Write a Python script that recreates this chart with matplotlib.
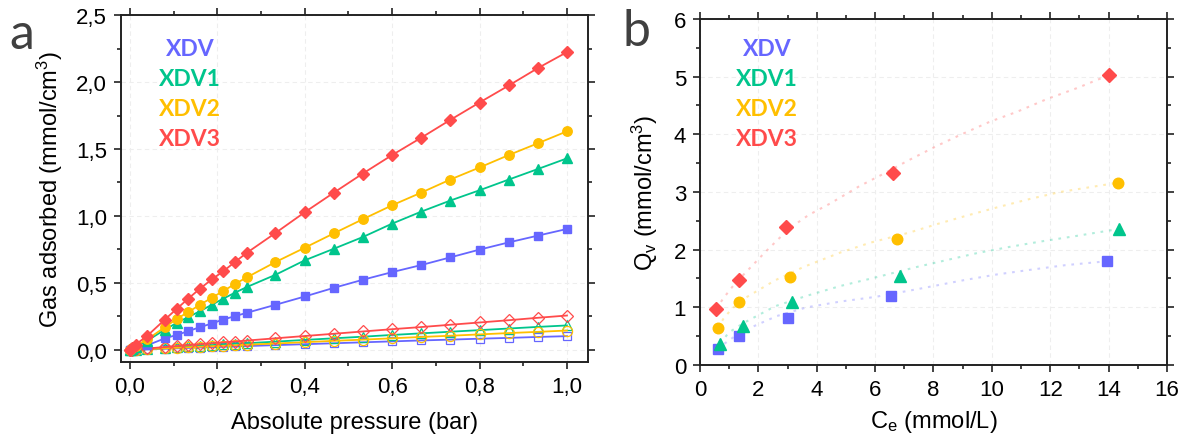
import matplotlib
matplotlib.use("Agg")
import matplotlib.pyplot as plt
from matplotlib.ticker import MultipleLocator, FuncFormatter

plt.rcParams['font.family'] = ['Liberation Sans', 'DejaVu Sans']
plt.rcParams['mathtext.fontset'] = 'custom'
plt.rcParams['mathtext.rm'] = 'Liberation Sans'
plt.rcParams['mathtext.it'] = 'Liberation Sans:italic'

# ---------------- data ----------------
names = ["XDV", "XDV1", "XDV2", "XDV3"]
colors = ["#6666ff", "#00c58c", "#ffbf00", "#ff4b4b"]
markers = ["s", "^", "o", "D"]

pressure = [0.0, 0.005, 0.013, 0.04, 0.08, 0.107, 0.133, 0.16, 0.187, 0.213, 0.24, 0.267,
            0.333, 0.4, 0.467, 0.533, 0.6, 0.667, 0.733, 0.8, 0.867, 0.933, 1.0]

filled_xdv = [0, 0.005, 0.012, 0.035, 0.087, 0.112, 0.140, 0.170, 0.197, 0.227, 0.252, 0.277,
              0.337, 0.399, 0.464, 0.524, 0.581, 0.634, 0.691, 0.749, 0.803, 0.853, 0.903]
filled_xdv1 = [0, 0.010, 0.025, 0.070, 0.152, 0.202, 0.245, 0.289, 0.337, 0.382, 0.427, 0.469,
               0.561, 0.669, 0.756, 0.843, 0.943, 1.033, 1.115, 1.192, 1.272, 1.350, 1.430]
filled_xdv2 = [0, 0.012, 0.030, 0.080, 0.170, 0.232, 0.282, 0.337, 0.389, 0.439, 0.492, 0.541,
               0.656, 0.763, 0.871, 0.976, 1.080, 1.175, 1.272, 1.362, 1.455, 1.542, 1.632]
filled_xdv3 = [0, 0.015, 0.040, 0.107, 0.227, 0.307, 0.382, 0.457, 0.526, 0.586, 0.656, 0.724,
               0.873, 1.028, 1.175, 1.317, 1.455, 1.585, 1.717, 1.847, 1.974, 2.103, 2.223]

open_xdv = [0, 0.001, 0.002, 0.005, 0.009, 0.012, 0.015, 0.018, 0.021, 0.024, 0.026, 0.029,
            0.036, 0.043, 0.050, 0.057, 0.064, 0.071, 0.077, 0.084, 0.090, 0.097, 0.103]
open_xdv1 = [0, 0.001, 0.003, 0.008, 0.016, 0.021, 0.026, 0.031, 0.036, 0.041, 0.046, 0.050,
             0.062, 0.075, 0.087, 0.099, 0.112, 0.124, 0.136, 0.148, 0.160, 0.172, 0.183]
open_xdv2 = [0, 0.001, 0.002, 0.006, 0.012, 0.016, 0.020, 0.024, 0.028, 0.031, 0.035, 0.039,
             0.048, 0.058, 0.068, 0.077, 0.087, 0.097, 0.106, 0.116, 0.126, 0.135, 0.145]
open_xdv3 = [0, 0.002, 0.004, 0.011, 0.022, 0.029, 0.036, 0.043, 0.050, 0.057, 0.063, 0.070,
             0.087, 0.104, 0.121, 0.138, 0.155, 0.171, 0.188, 0.205, 0.222, 0.240, 0.257]

filled = [filled_xdv, filled_xdv1, filled_xdv2, filled_xdv3]
opened = [open_xdv, open_xdv1, open_xdv2, open_xdv3]

# panel b: Ce (mmol/L) and Qv (mmol/cm3)
ce_xdv = [0.62, 1.35, 3.00, 6.54, 13.96]
qv_xdv = [0.28, 0.51, 0.81, 1.20, 1.80]
ce_xdv1 = [0.70, 1.46, 3.17, 6.86, 14.37]
qv_xdv1 = [0.37, 0.68, 1.09, 1.55, 2.36]
ce_xdv2 = [0.61, 1.34, 3.10, 6.75, 14.31]
qv_xdv2 = [0.64, 1.09, 1.53, 2.19, 3.15]
ce_xdv3 = [0.56, 1.34, 2.95, 6.60, 14.03]
qv_xdv3 = [0.97, 1.47, 2.39, 3.33, 5.03]

# fitted curves
fit_ce_xdv = [0.62, 0.81, 1.20, 1.61, 2.64, 3.66, 4.81, 6.00, 7.50, 9.03, 10.17, 11.31, 12.50, 13.96]
fit_qv_xdv = [0.27, 0.36, 0.50, 0.62, 0.85, 1.00, 1.10, 1.18, 1.32, 1.47, 1.57, 1.65, 1.73, 1.80]
fit_ce_xdv1 = [0.70, 0.98, 1.50, 2.58, 3.66, 4.81, 5.95, 7.43, 8.46, 9.49, 10.63, 11.66, 12.80, 14.37]
fit_qv_xdv1 = [0.37, 0.56, 0.73, 1.02, 1.20, 1.37, 1.51, 1.70, 1.82, 1.94, 2.05, 2.14, 2.23, 2.36]
fit_ce_xdv2 = [0.61, 0.80, 1.10, 1.61, 2.58, 3.55, 4.81, 5.83, 7.20, 8.17, 9.14, 10.23, 11.31, 12.34, 14.31]
fit_qv_xdv2 = [0.64, 0.80, 0.98, 1.18, 1.47, 1.70, 1.95, 2.12, 2.30, 2.45, 2.59, 2.74, 2.88, 3.00, 3.16]
fit_ce_xdv3 = [0.56, 0.79, 1.10, 1.50, 2.24, 3.04, 3.72, 4.46, 5.46, 6.23, 7.15, 8.12, 8.92, 9.94, 10.86, 11.88, 12.91, 14.03]
fit_qv_xdv3 = [0.97, 1.15, 1.35, 1.57, 1.96, 2.36, 2.60, 2.80, 3.10, 3.30, 3.55, 3.80, 3.99, 4.22, 4.39, 4.61, 4.80, 5.03]

ce_all = [ce_xdv, ce_xdv1, ce_xdv2, ce_xdv3]
qv_all = [qv_xdv, qv_xdv1, qv_xdv2, qv_xdv3]
fit_ce = [fit_ce_xdv, fit_ce_xdv1, fit_ce_xdv2, fit_ce_xdv3]
fit_qv = [fit_qv_xdv, fit_qv_xdv1, fit_qv_xdv2, fit_qv_xdv3]

# ---------------- figure ----------------
fig = plt.figure(figsize=(11.87, 4.39), dpi=100)
ax1 = fig.add_axes([0.1019, 0.1731, 0.3934, 0.7904])
ax2 = fig.add_axes([0.5897, 0.1663, 0.3934, 0.7882])

ms_f = {"s": 6.0, "^": 7.0, "o": 6.8, "D": 6.0}
ms_o = {"s": 6.3, "^": 7.3, "o": 7.3, "D": 6.6}

for c, m, oy in zip(colors, markers, opened):
    ax1.plot(pressure, oy, color=c, lw=1.3, marker=m, ms=ms_o[m], mfc='none',
             mec=c, mew=0.9, zorder=3)
for c, m, fy in zip(colors, markers, filled):
    ax1.plot(pressure, fy, color=c, lw=1.3, marker=m, ms=ms_f[m], mfc=c,
             mec=c, zorder=4)

ax1.set_xlim(-0.0206, 1.048)
ax1.set_ylim(-0.09, 2.5)
ax1.xaxis.set_major_locator(MultipleLocator(0.2))
ax1.xaxis.set_minor_locator(MultipleLocator(0.1))
ax1.yaxis.set_major_locator(MultipleLocator(0.5))
ax1.yaxis.set_minor_locator(MultipleLocator(0.25))
comma1 = FuncFormatter(lambda v, p: ("%.1f" % v).replace(".", ","))
ax1.xaxis.set_major_formatter(comma1)
ax1.yaxis.set_major_formatter(comma1)
ax1.set_xlabel("Absolute pressure (bar)", fontsize=17, labelpad=10)
ax1.set_ylabel("Gas adsorbed (mmol/cm$^\\mathregular{3}$)", fontsize=17, labelpad=8)

m_b = {"s": 7.0, "^": 8.0, "o": 7.6, "D": 7.6}
for c, m, fx, fyv in zip(colors, markers, fit_ce, fit_qv):
    ax2.plot(fx, fyv, color=c, alpha=0.3, lw=1.5, ls=(0, (1.3, 2.8)), zorder=2)
for c, m, x, y in zip(colors, markers, ce_all, qv_all):
    ax2.plot(x, y, ls='none', marker=m, ms=m_b[m], mfc=c, mec=c, zorder=4)

ax2.set_xlim(0, 16)
ax2.set_ylim(0, 6)
ax2.xaxis.set_major_locator(MultipleLocator(2))
ax2.xaxis.set_minor_locator(MultipleLocator(1))
ax2.yaxis.set_major_locator(MultipleLocator(1))
ax2.yaxis.set_minor_locator(MultipleLocator(0.5))
ax2.set_xlabel("C$_\\mathregular{e}$ (mmol/L)", fontsize=17, labelpad=6)
ax2.set_ylabel("Q$_\\mathregular{v}$ (mmol/cm$^\\mathregular{3}$)", fontsize=17, labelpad=10)

for ax in (ax1, ax2):
    ax.grid(True, which='major', color='#eeeeee', ls=(0, (4, 3)), lw=0.8, zorder=0)
    ax.set_axisbelow(True)
    for s in ax.spines.values():
        s.set_linewidth(1.4)
        s.set_color('#222222')
    ax.tick_params(which='both', direction='out', top=True, right=True,
                   labeltop=False, labelright=False, width=1.2, color='#222222')
    ax.tick_params(which='major', length=5, labelsize=16, pad=5)
    ax.tick_params(which='minor', length=3)

# in-plot labels
for xc in (190, 767):
    for i, (n, c) in enumerate(zip(names, colors)):
        ypix = 50 + 30 * i
        fig.text(xc / 1187, 1 - ypix / 439, n, color=c, fontsize=16.5, fontweight='bold',
                 family=['Lato', 'DejaVu Sans'], ha='center', va='center')

fig.text(22 / 1187, 1 - 35 / 439, "a", fontsize=36, color='#404040',
         family=['Lato', 'DejaVu Sans'], ha='center', va='center')
fig.text(637 / 1187, 1 - 32 / 439, "b", fontsize=36, color='#404040',
         family=['Lato', 'DejaVu Sans'], ha='center', va='center')

fig.savefig("out.png", dpi=100)
